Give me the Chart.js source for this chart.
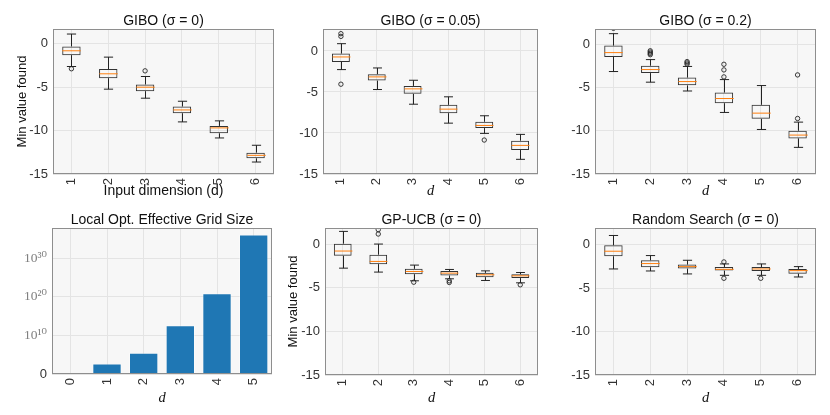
<!DOCTYPE html>
<html>
<head>
<meta charset="utf-8">
<script src="https://cdn.jsdelivr.net/npm/chart.js@4.4.1/dist/chart.umd.min.js"></script>
<style>
  body { margin: 0; background: #fff; width: 830px; height: 415px; position: relative; overflow: hidden; }
  canvas { position: absolute; }
</style>
</head>
<body>
<canvas id="p1"></canvas>
<canvas id="p2"></canvas>
<canvas id="p3"></canvas>
<canvas id="p4"></canvas>
<canvas id="p5"></canvas>
<canvas id="p6"></canvas>
<script>
// categories
const dims = ['1', '2', '3', '4', '5', '6'];
const gridDims = ['0', '1', '2', '3', '4', '5'];

// box stats per dimension: [whisker low, q1, median, q3, whisker high]
const giboSigma0 = [
  [-2.62, -1.31, -0.81, -0.31, 1.12],
  [-5.23, -3.96, -3.46, -2.92, -1.54],
  [-6.27, -5.46, -5.00, -4.69, -3.77],
  [-9.00, -8.00, -7.62, -7.23, -6.62],
  [-10.85, -10.31, -9.69, -9.46, -8.88],
  [-13.62, -13.19, -12.85, -12.54, -11.69]
];
const giboSigma0Out = [[-2.88], [], [-3.12], [], [], []];

const giboSigma005 = [
  [-2.27, -1.34, -0.73, -0.32, 0.89],
  [-4.70, -3.61, -3.16, -2.84, -2.07],
  [-6.49, -5.23, -4.62, -4.26, -3.57],
  [-8.80, -7.58, -7.09, -6.57, -5.59],
  [-10.05, -9.40, -9.08, -8.63, -7.90],
  [-13.21, -12.08, -11.51, -10.94, -10.17]
];
const giboSigma005Out = [[2.11, 1.78, -4.05], [], [], [], [-10.86], []];

const giboSigma02 = [
  [-3.15, -1.46, -0.96, -0.15, 1.23],
  [-4.38, -3.33, -2.92, -2.48, -1.77],
  [-5.40, -4.75, -4.31, -3.85, -2.56],
  [-7.88, -6.81, -6.27, -5.58, -4.08],
  [-9.85, -8.62, -7.96, -7.00, -4.77],
  [-11.92, -10.88, -10.50, -10.00, -9.00]
];
const giboSigma02Out = [[1.85], [-0.75, -0.9, -1.05, -1.2], [-2.0, -2.15, -2.3], [-2.31, -2.96, -3.77], [], [-3.54, -8.58]];

const gpUcb = [
  [-2.76, -1.34, -0.80, 0.04, 1.45],
  [-3.21, -2.30, -1.99, -1.22, 0.0],
  [-4.21, -3.45, -3.14, -2.84, -2.41],
  [-3.98, -3.60, -3.33, -3.10, -2.91],
  [-4.17, -3.79, -3.52, -3.30, -3.07],
  [-4.44, -3.90, -3.64, -3.45, -3.26]
];
const gpUcbOut = [[], [1.65, 1.15], [-4.37], [-4.21, -4.40], [], [-4.67]];

const randomSearch = [
  [-2.81, -1.35, -0.77, -0.08, 1.04],
  [-3.04, -2.62, -2.19, -1.81, -1.27],
  [-3.38, -2.77, -2.54, -2.31, -1.81],
  [-3.54, -3.00, -2.85, -2.58, -2.23],
  [-3.54, -3.04, -2.81, -2.58, -2.23],
  [-3.73, -3.35, -3.00, -2.81, -2.54]
];
const randomSearchOut = [[], [], [], [-2.0, -3.88], [-3.88], []];

// local opt. effective grid size per d
const gridSizes = [1.5, 5e2, 3e5, 4e12, 8e20, 1.3e36];
const logTicks = [1, 1e10, 1e20, 1e30];
const logTickLabels = ['0', '10\u00b9\u2070', '10\u00b2\u2070', '10\u00b3\u2070'];

const sans = "'Liberation Sans', Arial, sans-serif";
const serif = "'Liberation Serif', 'DejaVu Serif', serif";

// background + frame around the plot area
const panelStyle = {
  id: 'panelStyle',
  beforeDraw(chart) {
    const a = chart.chartArea, ctx = chart.ctx;
    ctx.save();
    ctx.fillStyle = '#f7f7f7';
    ctx.fillRect(a.left, a.top, a.right - a.left, a.bottom - a.top);
    ctx.restore();
  },
  afterDraw(chart) {
    const a = chart.chartArea, ctx = chart.ctx;
    ctx.save();
    ctx.strokeStyle = '#8e8e8e';
    ctx.lineWidth = 1;
    ctx.strokeRect(Math.round(a.left) + 0.5, Math.round(a.top) + 0.5,
      Math.round(a.right - a.left) - 1, Math.round(a.bottom - a.top) - 1);
    ctx.restore();
  }
};

// whiskers, caps and median lines for the box datasets
function whiskerPlugin(stats) {
  return {
    id: 'whiskers',
    afterDatasetsDraw(chart) {
      const y = chart.scales.y, ctx = chart.ctx;
      const bars = chart.getDatasetMeta(0).data;
      const py = v => y.getPixelForValue(v);
      ctx.save();
      ctx.lineWidth = 1;
      stats.forEach((s, i) => {
        const bar = bars[i];
        const x = Math.round(bar.x) + 0.5, half = bar.width / 2;
        ctx.strokeStyle = '#222';
        ctx.beginPath();
        ctx.moveTo(x, py(s[3])); ctx.lineTo(x, py(s[4]));
        ctx.moveTo(x, py(s[1])); ctx.lineTo(x, py(s[0]));
        ctx.moveTo(x - half / 2, py(s[4])); ctx.lineTo(x + half / 2, py(s[4]));
        ctx.moveTo(x - half / 2, py(s[0])); ctx.lineTo(x + half / 2, py(s[0]));
        ctx.stroke();
        ctx.strokeStyle = '#ff7f0e';
        ctx.beginPath();
        ctx.moveTo(x - half, py(s[2])); ctx.lineTo(x + half, py(s[2]));
        ctx.stroke();
      });
      ctx.restore();
    }
  };
}

function placeCanvas(id, cell) {
  const c = document.getElementById(id);
  c.width = cell.w; c.height = cell.h;
  c.style.left = cell.x + 'px'; c.style.top = cell.y + 'px';
  c.style.width = cell.w + 'px'; c.style.height = cell.h + 'px';
  return c;
}

function xAxis(labels, title, titleFont) {
  return {
    type: 'category',
    labels: labels,
    offset: true,
    grid: { offset: false, color: '#e4e4e4', drawTicks: false },
    border: { display: false },
    ticks: { minRotation: 90, maxRotation: 90, padding: 4, color: '#333', font: { family: sans, size: 13 } },
    title: { display: true, text: title, color: '#111', font: titleFont, padding: 0 }
  };
}

function panelTitle(text) {
  return {
    display: true, text: text, fullSize: false, color: '#111',
    font: { family: sans, size: 14, weight: 'normal', lineHeight: 1 },
    padding: { top: 0, bottom: 1 }
  };
}

const dFont = { family: serif, size: 14.5, style: 'italic', lineHeight: 1.2 };
const inputFont = { family: sans, size: 14, lineHeight: 1.2 };

function boxChart(id, cell, area, title, stats, outs, ymax, xTitle, xFont, yTitle, yTitlePad) {
  const c = placeCanvas(id, cell);
  const outPts = [];
  outs.forEach((list, i) => list.forEach(v => outPts.push({ x: dims[i], y: v })));
  new Chart(c, {
    type: 'bar',
    data: {
      labels: dims,
      datasets: [{
        data: stats.map(s => [s[1], s[3]]),
        backgroundColor: 'rgba(0,0,0,0)',
        borderColor: '#333',
        borderWidth: 1,
        borderSkipped: false,
        barPercentage: 0.5,
        categoryPercentage: 1
      }, {
        type: 'scatter',
        data: outPts,
        pointRadius: 2.2,
        pointBorderWidth: 0.9,
        pointBorderColor: '#222',
        pointBackgroundColor: 'rgba(0,0,0,0)'
      }]
    },
    options: {
      responsive: false,
      animation: false,
      layout: { padding: { left: 0, bottom: 0, top: area.y0 - cell.y - 15, right: cell.x + cell.w - area.x1 } },
      plugins: {
        legend: { display: false },
        tooltip: { enabled: false },
        title: panelTitle(title)
      },
      scales: {
        x: Object.assign(xAxis(dims, xTitle, xFont), {
          afterFit: s => { s.height = cell.y + cell.h - area.y1; }
        }),
        y: {
          min: -15, max: ymax,
          grid: { color: '#e4e4e4', drawTicks: false },
          border: { display: false },
          ticks: { stepSize: 5, includeBounds: false, padding: 5, color: '#333', font: { family: sans, size: 13 } },
          title: { display: !!yTitle, text: yTitle, color: '#111', font: { family: sans, size: 13, lineHeight: 1.2 }, padding: { top: yTitlePad, bottom: 0 } },
          afterFit: s => { s.width = area.x0 - cell.x; }
        }
      }
    },
    plugins: [panelStyle, whiskerPlugin(stats)]
  });
}

boxChart('p1', { x: 0, y: 0, w: 280, h: 200 }, { x0: 53, y0: 29, x1: 274, y1: 174 },
  'GIBO (\u03c3 = 0)', giboSigma0, giboSigma0Out, 1.7, 'Input dimension (d)', inputFont, 'Min value found', 15);
boxChart('p2', { x: 280, y: 0, w: 270, h: 200 }, { x0: 323, y0: 29, x1: 538, y1: 174 },
  'GIBO (\u03c3 = 0.05)', giboSigma005, giboSigma005Out, 2.68, 'd', dFont, '', 0);
boxChart('p3', { x: 550, y: 0, w: 280, h: 200 }, { x0: 595, y0: 29, x1: 816, y1: 174 },
  'GIBO (\u03c3 = 0.2)', giboSigma02, giboSigma02Out, 1.77, 'd', dFont, '', 0);
boxChart('p5', { x: 280, y: 207, w: 270, h: 200 }, { x0: 325, y0: 228, x1: 538, y1: 375 },
  'GP-UCB (\u03c3 = 0)', gpUcb, gpUcbOut, 1.84, 'd', dFont, 'Min value found', 6);
boxChart('p6', { x: 550, y: 207, w: 280, h: 200 }, { x0: 595, y0: 228, x1: 816, y1: 375 },
  'Random Search (\u03c3 = 0)', randomSearch, randomSearchOut, 1.9, 'd', dFont, '', 0);

// grid size bar chart on a log axis
(function () {
  const cell = { x: 0, y: 207, w: 280, h: 200 };
  const area = { x0: 52, y0: 228, x1: 272, y1: 374 };
  const c = placeCanvas('p4', cell);
  new Chart(c, {
    type: 'bar',
    data: {
      labels: gridDims,
      datasets: [{
        data: gridSizes,
        backgroundColor: '#1f77b4',
        borderColor: 'rgba(255,255,255,0.35)',
        borderWidth: 1,
        barPercentage: 0.8,
        categoryPercentage: 1
      }]
    },
    options: {
      responsive: false,
      animation: false,
      layout: { padding: { left: 0, bottom: 0, top: area.y0 - cell.y - 15, right: cell.x + cell.w - area.x1 } },
      plugins: {
        legend: { display: false },
        tooltip: { enabled: false },
        title: panelTitle('Local Opt. Effective Grid Size')
      },
      scales: {
        x: Object.assign(xAxis(gridDims, 'd', dFont), {
          afterFit: s => { s.height = cell.y + cell.h - area.y1; }
        }),
        y: {
          type: 'logarithmic',
          min: 1, max: Math.pow(10, 37.8),
          bounds: 'data',
          grid: { color: '#e4e4e4', drawTicks: false },
          border: { display: false },
          afterBuildTicks: s => { s.ticks = logTicks.map(v => ({ value: v })); },
          ticks: {
            padding: 5,
            color: ctx => (ctx.index === 0 ? '#333' : '#808080'),
            font: ctx => (ctx.index === 0 ? { family: sans, size: 13 } : { family: serif, size: 13.5 }),
            callback: v => logTickLabels[logTicks.indexOf(v)]
          },
          afterFit: s => { s.width = area.x0 - cell.x; }
        }
      }
    },
    plugins: [panelStyle]
  });
})();
</script>
</body>
</html>
